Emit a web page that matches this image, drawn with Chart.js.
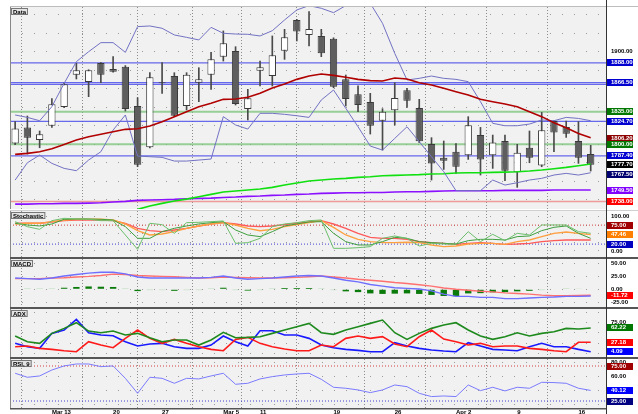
<!DOCTYPE html>
<html><head><meta charset="utf-8">
<script src="https://cdn.jsdelivr.net/npm/chart.js@4.4.1/dist/chart.umd.min.js"></script>
<style>
html,body{margin:0;padding:0;background:#fff;width:638px;height:414px;overflow:hidden}
.p{position:absolute;left:0;width:638px}
</style></head><body>
<div class="p" style="top:0;height:209px"><canvas id="c1"></canvas></div>
<div class="p" style="top:209px;height:48px"><canvas id="c2"></canvas></div>
<div class="p" style="top:257px;height:50px"><canvas id="c3"></canvas></div>
<div class="p" style="top:307px;height:50px"><canvas id="c4"></canvas></div>
<div class="p" style="top:357px;height:57px"><canvas id="c5"></canvas></div>
<script>
// ---------- data ----------
const tickIdx  = [3, 8, 12, 17, 20, 26, 31, 36, 41, 46];
const tickText = ['Mar 13', '20', '27', 'Mar 5', '11', '19', '26', 'Apr 2', '9', '16'];

const open  = [1800.9,1818.2,1804.5,1820.0,1840.2,1875.2,1867.2,1887.8,1881.3,1883.8,1841.3,1796.6,1866.0,1873.7,1841.3,1866.5,1875.2,1894.6,1900.8,1838.0,1879.5,1873.7,1901.1,1934.3,1918.1,1917.0,1914.1,1870.1,1853.9,1845.6,1825.4,1836.6,1858.2,1839.1,1800.2,1785.4,1791.9,1788.0,1809.9,1788.0,1803.5,1769.6,1796.2,1777.1,1825.1,1818.6,1803.5,1789.4];
const high  = [1824.4,1830.5,1814.3,1849.2,1866.0,1887.4,1880.5,1888.3,1894.6,1885.0,1850.3,1877.3,1888.1,1877.3,1877.3,1882.7,1899.3,1922.4,1905.4,1859.3,1889.9,1917.0,1924.2,1935.0,1943.3,1924.2,1915.0,1874.8,1863.0,1855.0,1838.4,1866.5,1860.4,1848.5,1807.1,1803.5,1800.6,1829.8,1818.2,1809.9,1809.9,1799.9,1814.3,1834.4,1825.5,1825.0,1824.4,1798.8];
const low   = [1799.5,1789.4,1796.2,1818.2,1839.5,1870.5,1851.4,1866.5,1878.0,1835.9,1775.7,1796.0,1855.0,1829.8,1837.0,1846.0,1859.3,1889.9,1842.4,1826.2,1862.9,1862.9,1891.7,1911.6,1906.2,1894.6,1861.0,1841.3,1835.2,1811.0,1793.7,1820.7,1839.9,1801.7,1761.3,1772.8,1768.5,1783.6,1766.7,1773.9,1760.6,1753.4,1780.0,1775.7,1791.9,1807.4,1779.3,1771.0];
const close = [1817.1,1807.1,1810.7,1843.1,1864.7,1879.9,1879.9,1875.2,1878.4,1838.0,1777.9,1872.3,1867.0,1830.8,1875.2,1870.1,1891.7,1909.0,1843.5,1849.6,1883.1,1896.1,1915.5,1921.7,1924.5,1898.2,1862.2,1848.9,1842.4,1820.0,1835.2,1849.9,1847.1,1803.1,1779.3,1782.2,1775.7,1820.4,1783.6,1802.0,1771.4,1790.8,1785.4,1815.0,1812.8,1811.4,1785.4,1777.9];

const maRed    = [1789.0,1790.1,1791.9,1795.2,1799.8,1804.5,1808.1,1810.7,1813.5,1816.1,1816.8,1819.7,1824.4,1829.8,1835.2,1840.6,1844.2,1848.5,1848.9,1850.7,1855.0,1860.8,1865.1,1870.1,1873.7,1875.9,1874.4,1872.3,1870.1,1868.7,1868.3,1871.6,1870.5,1866.5,1864.0,1860.4,1856.8,1853.2,1848.5,1846.0,1843.5,1840.6,1835.2,1829.8,1823.3,1817.9,1811.7,1807.1];
const bandUp   = [1831.6,1829.0,1825.4,1840.6,1865.8,1889.2,1900.0,1909.8,1909.8,1899.3,1927.1,1927.8,1925.3,1918.1,1915.5,1912.7,1926.3,1919.9,1919.1,1918.8,1917.0,1922.7,1934.3,1945.1,1949.8,1946.9,1942.2,1949.8,1963.0,1952.3,1930.7,1898.2,1869.4,1871.2,1873.7,1871.2,1870.1,1867.6,1846.0,1822.6,1820.0,1820.0,1821.8,1826.2,1825.4,1829.0,1827.9,1825.4];
const bandLow  = [1761.3,1780.0,1788.3,1779.3,1773.9,1771.4,1782.9,1791.9,1815.3,1831.6,1787.2,1786.5,1785.8,1781.8,1781.8,1782.9,1784.0,1829.8,1820.8,1816.4,1833.4,1833.4,1832.3,1830.8,1829.0,1847.8,1858.6,1838.8,1818.9,1798.0,1793.7,1806.3,1818.9,1802.7,1786.5,1770.3,1749.8,1749.8,1749.8,1761.3,1755.9,1758.4,1761.3,1763.1,1766.7,1768.5,1766.7,1769.2];
const maGreen  = [null,null,null,null,null,null,null,null,null,null,1729.6,1733.2,1736.1,1738.6,1740.7,1743.3,1745.8,1748.3,1749.4,1750.5,1751.6,1753.4,1755.9,1758.1,1760.2,1761.3,1762.4,1763.1,1764.2,1764.9,1766.0,1766.3,1766.7,1767.1,1767.8,1768.1,1768.9,1769.2,1769.2,1769.6,1769.9,1770.3,1771.0,1772.1,1773.5,1775.0,1776.8,1778.6];
const maPurple = [1735.3,1735.3,1735.7,1735.7,1736.1,1736.1,1736.4,1736.8,1737.5,1738.2,1739.3,1739.7,1740.0,1740.4,1741.1,1741.5,1741.8,1742.5,1742.9,1743.6,1744.0,1744.7,1745.1,1745.8,1746.2,1746.9,1747.2,1747.6,1747.6,1747.9,1747.9,1748.3,1748.7,1748.7,1749.0,1749.4,1749.8,1749.8,1749.8,1749.8,1750.1,1750.1,1750.1,1750.1,1750.5,1750.5,1750.5,1750.5];

const levelsBlue  = [1888, 1866.5, 1864.6, 1824.7, 1787.4];
const levelsGreen = [1835, 1800];
const levelsRed   = [1738];
const mainTickLabels = [1900, 1850];
const mainTagVals = [1888, 1866.5, 1835, 1824.7, 1806.2, 1800, 1787.4, 1777.7, 1767.5, 1749.5, 1738];

const stochK   = [85.0,70.5,62.8,87.9,94.7,92.8,91.8,87.9,87.9,46.4,4.8,80.2,76.3,51.2,82.1,83.1,85.0,87.0,22.2,24.2,36.7,70.5,78.3,82.1,87.9,89.9,7.7,7.7,9.6,12.6,36.7,43.5,36.7,14.5,22.2,20.3,19.3,56.0,27.1,48.3,30.0,51.2,46.4,75.4,75.4,75.4,56.0,51.2];
const stochD   = [80.2,75.4,72.5,78.3,91.8,92.8,92.8,91.8,89.9,70.5,36.7,36.7,56.0,65.7,72.5,78.3,82.1,85.0,60.9,46.4,41.6,56.0,72.5,78.3,84.1,85.0,51.2,27.1,17.4,17.4,27.1,39.6,36.7,27.1,24.2,22.2,20.3,30.0,33.8,33.8,31.9,41.6,43.5,58.9,68.6,72.5,51.2,36.7];
const stochSlow = [78.3,80.2,80.2,85.0,89.9,91.8,91.8,91.8,89.9,78.3,58.9,46.4,49.3,56.0,65.7,72.5,78.3,82.1,75.4,65.7,58.9,62.8,70.5,76.3,82.1,87.9,68.6,46.4,33.8,27.1,24.2,24.2,25.2,24.2,17.4,12.6,14.5,20.3,22.2,22.2,19.3,27.1,31.9,41.6,51.2,55.1,51.2,47.46];
const stochSlowD = [80.2,80.2,80.2,84.1,87.9,89.9,89.9,89.9,87.9,80.2,65.7,58.9,56.0,60.9,65.7,72.5,78.3,82.1,78.3,72.5,70.5,72.5,76.3,80.2,84.1,87.9,78.3,65.7,51.2,39.6,36.7,36.7,33.8,27.1,24.2,22.2,19.3,22.2,24.2,22.2,19.3,20.3,22.2,27.1,30.0,31.9,31.9,31.9];
const stochLevels = [75, 20];
const stochTickLabels = [100, 0];
const stochTagVals = [75, 47.46, 20];

const macdLine   = [21.9,20.6,19.4,21.9,25.7,28.8,31.3,33.2,33.2,30.0,23.8,21.9,21.9,21.9,21.9,21.9,23.1,25.7,21.9,19.4,20.6,21.9,23.8,25.7,26.9,25.7,21.9,17.5,14.4,9.4,6.2,3.1,1.8,0.6,-3.2,-9.4,-13.8,-13.8,-15.7,-15.7,-18.2,-18.2,-17.0,-15.7,-15.1,-13.8,-13.8,-13.0];
const macdSignal = [20.6,20.6,20.6,21.9,22.5,23.8,25.0,26.9,29.4,28.8,26.9,25.7,25.0,24.4,23.1,21.9,22.5,23.8,23.1,22.5,21.9,21.9,22.5,23.1,24.4,25.7,23.8,21.9,19.4,17.5,15.6,13.1,11.2,8.7,6.2,2.5,0.0,-1.9,-3.8,-5.1,-7.0,-8.2,-9.4,-11.3,-12.5,-12.5,-12.2,-11.72];
const macdHist   = [0,1.5,1.5,1.5,3.0,4.5,5.5,5.0,4.5,1.5,-3.5,-1.5,-1.5,-3.0,-1.5,-1.5,1.5,3.0,-1.5,-2.5,-1.5,1.5,2.5,2.5,2.5,1.5,-1.5,-4.0,-5.5,-8.0,-9.0,-8.5,-8.0,-9.0,-11.0,-13.0,-13.5,-8.0,-7.5,-6.0,-5.5,-4.0,-3.0,-1.5,0,1.5,1.2,0];
const macdTickLabels = [50, 25, 0, -25];
const macdTagVals = [-11.72];

const adx     = [42.5,28.6,24.6,49.0,61.2,75.1,54.7,50.6,54.7,44.9,49.0,38.4,28.6,32.7,32.7,20.5,32.7,51.4,38.4,39.2,40.9,49.0,57.2,65.3,73.4,50.6,46.6,57.2,65.3,73.4,81.6,50.6,34.3,49.0,61.2,69.4,75.1,57.2,42.5,34.3,40.9,50.6,42.5,49.0,53.1,61.2,59.6,62.22];
const plusDI  = [24.6,16.4,12.3,49.0,57.2,83.2,50.6,44.9,43.3,28.6,18.0,22.9,24.6,16.4,12.3,12.3,20.5,42.5,28.6,18.0,55.5,55.5,44.9,44.9,36.8,20.5,13.9,9.9,7.4,4.2,4.2,26.2,18.0,12.3,8.3,5.8,4.2,26.2,18.0,9.9,8.3,6.6,16.4,24.6,16.4,16.4,9.9,4.09];
const minusDI = [16.4,18.0,12.3,9.9,6.6,4.2,28.6,20.5,13.9,36.8,57.2,36.8,24.6,34.3,24.6,16.4,9.9,6.6,34.3,39.2,24.6,16.4,10.7,6.6,6.6,20.5,16.4,36.8,42.5,36.8,40.9,22.9,16.4,40.9,57.2,35.1,28.6,20.5,24.6,16.4,18.0,18.0,12.3,9.9,6.6,4.2,27.18,27.18];
const adxTickLabels = [75];
const adxTagVals = [62.22, 27.18, 4.09];

const rsi = [64.6,58.9,60.8,69.3,75.1,77.9,77.9,74.1,75.1,57.4,36.0,58.9,57.4,50.3,57.4,56.5,60.8,64.6,48.9,50.3,56.5,59.8,62.2,63.6,64.6,56.0,44.6,43.2,40.8,37.0,40.8,47.9,45.5,36.0,31.3,32.2,31.3,47.9,39.8,44.6,39.4,44.6,43.2,51.7,51.3,50.3,43.2,40.12];
const rsiLevels = [75, 25];
const rsiTickLabels = [80, 60];
const rsiTagVals = [75, 40.12, 25];

// ---------- helpers ----------
Chart.defaults.font.family = "'Liberation Sans', Arial, sans-serif";
const pts = arr => arr.map((v, i) => ({x: i, y: v}));
const fmt = v => v.toFixed(2);
const noPad = s => { s.paddingTop = 0; s.paddingBottom = 0; s.paddingLeft = 0; s.paddingRight = 0; };

const decor = {
  id: 'decor',
  beforeDraw(chart, args, o) {
    const {ctx, chartArea: a} = chart;
    ctx.save();
    ctx.fillStyle = '#ffffff'; ctx.fillRect(0, 0, chart.width, chart.height);
    ctx.fillStyle = '#f1f1f1'; ctx.fillRect(a.left, a.top, a.right - a.left, a.bottom - a.top);
    ctx.restore();
  },
  beforeDatasetsDraw(chart, args, o) {
    const {ctx, chartArea: a} = chart; const y = chart.scales.y;
    ctx.save();
    ctx.beginPath(); ctx.rect(a.left, a.top, a.right - a.left, a.bottom - a.top); ctx.clip();
    (o.levels || []).forEach(L => {
      const py = y.getPixelForValue(L.v);
      ctx.strokeStyle = L.c; ctx.lineWidth = L.w; ctx.setLineDash(L.d ? [1, 2] : []);
      ctx.beginPath(); ctx.moveTo(a.left, py); ctx.lineTo(a.right, py); ctx.stroke();
    });
    ctx.restore();
  },
  afterDraw(chart, args, o) {
    const {ctx, chartArea: a} = chart; const y = chart.scales.y;
    ctx.save();
    ctx.fillStyle = o.sepColor;
    ctx.fillRect(10, a.top - o.sepW, chart.width - 10, o.sepW);
    if (o.bottom) { ctx.fillStyle = '#555'; ctx.fillRect(10, a.bottom, a.right - 10, 1.5); }
    ctx.fillStyle = '#888'; ctx.fillRect(10, a.top, 1, a.bottom - a.top);
    ctx.fillStyle = '#333'; ctx.fillRect(606, 0, 1, chart.height);
    ctx.font = 'bold 6px "Liberation Sans", Arial';
    const tw = ctx.measureText(o.title).width;
    ctx.fillStyle = '#e4e4e4'; ctx.fillRect(11, a.top + 1, tw + 4, 7);
    ctx.strokeStyle = '#777'; ctx.lineWidth = 1; ctx.strokeRect(11.5, a.top + 1.5, tw + 3, 6);
    ctx.fillStyle = '#000'; ctx.textBaseline = 'middle'; ctx.textAlign = 'left';
    ctx.fillText(o.title, 13, a.top + 5);
    (o.tags || []).forEach(T => {
      const py = y.getPixelForValue(T.v);
      ctx.fillStyle = T.c; ctx.fillRect(607, Math.round(py - 3.5), 26, 7);
      ctx.fillStyle = '#fff'; ctx.fillText(fmt(T.v), 611, Math.round(py - 3.5) + 3.7);
    });
    ctx.restore();
  }
};

function makeChart(id, datasets, yMin, yMax, gridVals, labelVals, deco, showX, topPad) {
  return new Chart(document.getElementById(id), {
    type: 'bar',
    data: {datasets},
    options: {
      animation: false, responsive: true, maintainAspectRatio: false, devicePixelRatio: 1,
      layout: {padding: {left: 10, top: topPad, right: 0, bottom: 0}},
      plugins: {legend: {display: false}, tooltip: {enabled: false}, decor: deco},
      elements: {point: {radius: 0}, line: {tension: 0}},
      scales: {
        x: {
          type: 'linear', min: -0.42, max: 48.25, bounds: 'data', offset: false,
          afterBuildTicks: s => { s.ticks = tickIdx.map(v => ({value: v})); },
          grid: {color: '#8c8c8c', drawTicks: false, lineWidth: 1},
          border: {display: false, dash: [1, 2]},
          ticks: {display: showX, autoSkip: false, maxRotation: 0, minRotation: 0, align: 'start', padding: 1,
                  color: '#000', font: {size: 6, weight: 'bold'}, callback: (v, i) => tickText[i]},
          afterFit: s => { s.height = showX ? 6 : 0; noPad(s); }
        },
        y: {
          position: 'right', min: yMin, max: yMax, bounds: 'data',
          afterBuildTicks: s => { s.ticks = gridVals.map(v => ({value: v})); },
          grid: {color: '#9a9a9a', drawTicks: false, lineWidth: 1},
          border: {display: false, dash: [1, 11]},
          ticks: {autoSkip: false, padding: 5, color: '#000', font: {size: 6, weight: 'bold'},
                  callback: v => labelVals.includes(v) ? fmt(v) : ''},
          afterFit: s => { s.width = 32; noPad(s); }
        }
      }
    },
    plugins: [decor]
  });
}

const line = (data, color, w, order) => ({type: 'line', data: pts(data), borderColor: color, borderWidth: w, pointRadius: 0, fill: false, spanGaps: false, order});

// ---------- main price panel ----------
const mainLevels = [
  ...levelsBlue.map(v => ({v, c: 'rgba(70,70,235,0.8)', w: 1.3})),
  ...levelsGreen.map(v => ({v, c: 'rgba(120,195,120,0.75)', w: 2})),
  ...levelsRed.map(v => ({v, c: 'rgba(240,140,140,0.85)', w: 1.5}))
];
const mainTagColors = ['#0000d0', '#0000d0', '#007800', '#0000d0', '#8b0000', '#007800', '#0000d0', '#000000', '#000070', '#8000ff', '#ff0000'];
makeChart('c1', [
  line(maRed, '#b00000', 1.6, 1),
  line(bandUp, '#7272c4', 1, 1),
  line(bandLow, '#7272c4', 1, 1),
  line(maGreen, '#10e010', 1.6, 1),
  line(maPurple, '#8a10ff', 1.6, 1),
  {type: 'bar', data: close.map((c, i) => ({x: i, y: [open[i], c]})),
   backgroundColor: close.map((c, i) => c < open[i] ? '#5e5e5e' : '#ffffff'),
   borderColor: '#3a3a3a', borderWidth: 1, borderSkipped: false, grouped: false,
   categoryPercentage: 1, barPercentage: 0.6, order: 3},
  {type: 'bar', data: high.map((h, i) => ({x: i, y: [low[i], h]})),
   backgroundColor: '#4a4a4a', barThickness: 1, grouped: false, order: 4}
], 1730, 1948.3, [1740,1760,1780,1800,1820,1840,1860,1880,1900,1920,1940], mainTickLabels,
 {title: 'Data', levels: mainLevels, tags: mainTagVals.map((v, i) => ({v, c: mainTagColors[i]})), sepColor: '#bdbdbd', sepW: 1}, false, 7);

// ---------- stochastic ----------
const stochTagColors = ['#a00000', '#ff8000', '#0000c0'];
makeChart('c2', [
  line(stochK, '#6cbf6c', 1, 1),
  line(stochD, '#3f9f3f', 1, 1),
  line(stochSlow, '#ffa040', 1.4, 1),
  line(stochSlowD, '#ff5a5a', 1.4, 1)
], -17.4, 115.9, [0, 25, 50, 75, 100], stochTickLabels,
 {title: 'Stochastic', levels: [{v: stochLevels[0], c: '#d04040', w: 1, d: 1}, {v: stochLevels[1], c: '#4040d0', w: 1, d: 1}],
  tags: stochTagVals.map((v, i) => ({v, c: stochTagColors[i]})), sepColor: '#d0d0d0', sepW: 1}, false, 2);

// ---------- MACD ----------
makeChart('c3', [
  line(macdLine, '#6f6fff', 1.4, 1),
  line(macdSignal, '#ff7070', 1.4, 1),
  {type: 'bar', data: pts(macdHist),
   backgroundColor: macdHist.map(v => Math.abs(v) < 2 ? '#86c886' : '#0a7a0a'), grouped: false,
   categoryPercentage: 1, barPercentage: 0.52, order: 3}
], -34.4, 58.8, [-25, 0, 25, 50], macdTickLabels,
 {title: 'MACD', levels: [], tags: macdTagVals.map(v => ({v, c: '#ff0000'})), sepColor: '#555', sepW: 2}, false, 2);

// ---------- ADX ----------
const adxTagColors = ['#007800', '#ff0000', '#0000ff'];
makeChart('c4', [
  line(adx, '#1e8a1e', 1.6, 1),
  line(minusDI, '#ff1a1a', 1.6, 1),
  line(plusDI, '#1a1aff', 1.6, 1)
], -8.8, 108.6, [0, 25, 50, 75, 100], adxTickLabels,
 {title: 'ADX', levels: [], tags: adxTagVals.map((v, i) => ({v, c: adxTagColors[i]})), sepColor: '#555', sepW: 2}, false, 2);

// ---------- RSI ----------
const rsiTagColors = ['#a00000', '#0000ff', '#000080'];
makeChart('c5', [
  line(rsi, '#7b7bff', 1, 1)
], 15, 85, [20, 40, 60, 80], rsiTickLabels,
 {title: 'RSI, 9', levels: [{v: rsiLevels[0], c: '#d04040', w: 1, d: 1}, {v: rsiLevels[1], c: '#4040d0', w: 1, d: 1}],
  tags: rsiTagVals.map((v, i) => ({v, c: rsiTagColors[i]})), sepColor: '#555', sepW: 2, bottom: true}, true, 2);
</script>
</body></html>
